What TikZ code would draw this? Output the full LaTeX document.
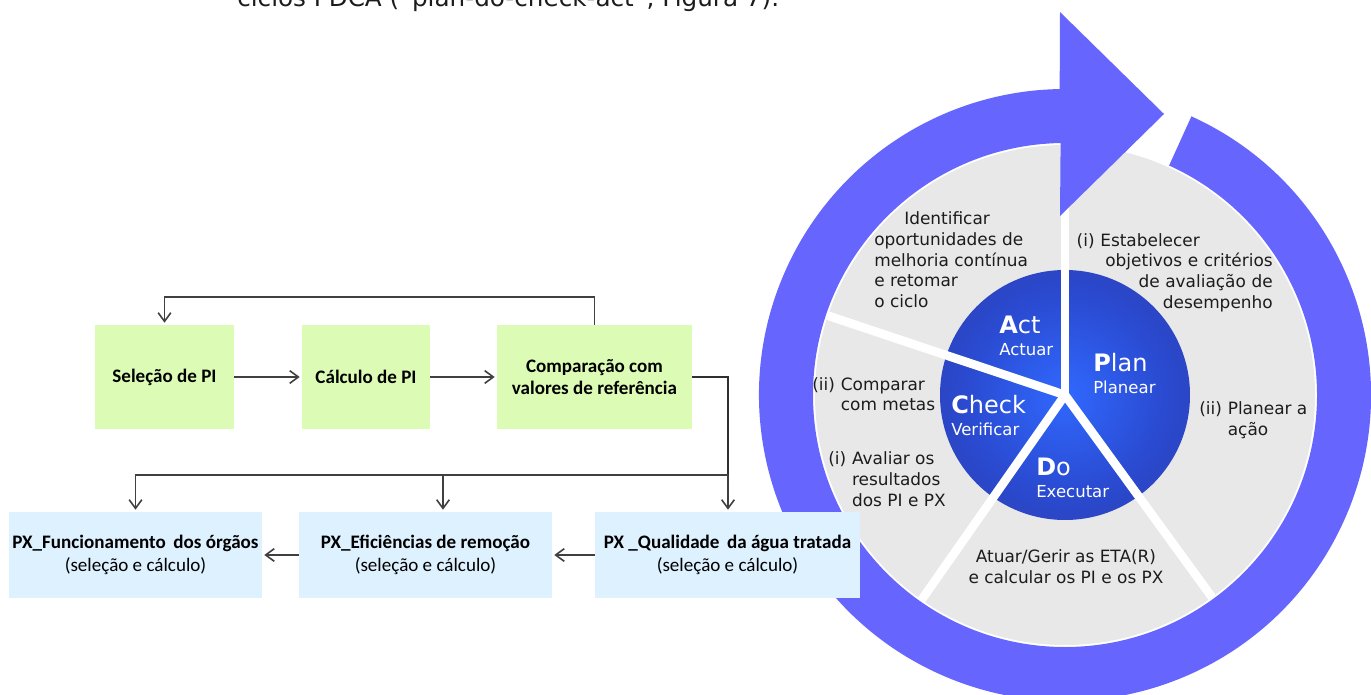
\documentclass[tikz,border=0pt]{standalone}
\usepackage{fontspec}
\setmainfont{Carlito}
\newfontfamily\pdcafont{DejaVu Sans}
\usetikzlibrary{arrows.meta}
\definecolor{pigreen}{RGB}{220,252,182}
\definecolor{pxblue}{RGB}{222,241,254}
\definecolor{linegray}{RGB}{64,64,64}
\definecolor{ringblue}{RGB}{102,102,255}
\definecolor{discgray}{RGB}{232,232,232}
\definecolor{textgray}{RGB}{28,28,28}
\definecolor{glowin}{RGB}{48,104,254}
\definecolor{glowmid}{RGB}{42,74,208}
\definecolor{glowout}{RGB}{46,48,142}
\pgfdeclareradialshading{pdcaglow}{\pgfpoint{0bp}{0bp}}{color(0bp)=(glowin); color(20bp)=(glowmid); color(50bp)=(glowout)}
\newcommand\phasesub[1]{{\fontsize{12.4}{12.4}\selectfont #1}}

\begin{document}
\begin{tikzpicture}[x=0.75pt,y=0.75pt]
\tikzstyle{pibox}=[fill=pigreen, minimum height=78pt, align=center, inner sep=2pt, font=\fontsize{14.3}{17}\selectfont\bfseries]
\tikzstyle{pxbox}=[fill=pxblue, minimum width=189.75pt, minimum height=64.5pt, align=center, inner sep=2pt, font=\fontsize{14.3}{17.2}\selectfont]
\tikzstyle{flow}=[draw=linegray, line width=1.2pt, shorten >=1.5pt, -{Straight Barb[length=6.5pt,width=9.5pt]}]
\tikzstyle{stem}=[draw=linegray!75!black, line width=2pt]
\tikzstyle{note}=[text=textgray, inner sep=0pt, font=\pdcafont\fontsize{12.7}{15.5}\selectfont]
\tikzstyle{phase}=[text=white, inner sep=0pt, align=left, anchor=west, font=\pdcafont\fontsize{18}{16.5}\selectfont]
\useasboundingbox (0,0) rectangle (1371,-695);

\begin{scope}
\clip (0,0) rectangle (1371,-695);
\node[anchor=base west, inner sep=0pt, text=textgray, font=\pdcafont\fontsize{18.5}{20}\selectfont] (caption) at (237,-7) {ciclos PDCA (“plan-do-check-act”, Figura 7).};
\end{scope}

\begin{scope}[shift={(1065,-395)}]
\fill[discgray] (0,0) circle[radius=250];
\shade[shading=pdcaglow] (0,0) circle[radius=125];
\foreach \a in {90,161.5,235,306}
  \draw[white, line width=6.5pt] (0,0) -- (\a:250);
\fill[ringblue] (65.6:306) arc[start angle=65.6, end angle=-269, radius=306]
  -- (-5,383) -- (99,281) -- (-5,179) -- (-269:252)
  arc[start angle=-269, end angle=65.6, radius=252] -- cycle;
\end{scope}

\node[note, anchor=west, align=left] (ident) at (874,-260) {\hspace*{22.5pt}Identificar\\oportunidades de\\melhoria contínua\\e retomar\\o ciclo};
\node[note, anchor=east, align=right, text width=147pt] (estab) at (1273,-272.5) {\noindent\makebox[\hsize][l]{(i) Estabelecer}\\objetivos e critérios\\de avaliação de\\desempenho};
\node[note, anchor=west] (compar) at (812,-396.5) {\begin{tabular}{@{}l@{\hspace{0.35em}}l@{}}(ii)&Comparar\\&com metas\end{tabular}};
\node[note, anchor=west] (aval) at (828,-481.5) {\begin{tabular}{@{}l@{\hspace{0.35em}}l@{}}(i)&Avaliar os\\&resultados\\&dos PI e PX\end{tabular}};
\node[note, anchor=west] (planear) at (1199,-421) {\begin{tabular}{@{}l@{\hspace{0.35em}}l@{}}(ii)&Planear a\\&ação\end{tabular}};
\node[note, align=center] (atuar) at (1066,-566.5) {Atuar/Gerir as ETA(R)\\e calcular os PI e os PX};

\node[phase] (act) at (999,-336) {\textbf{A}ct\\\phasesub{Actuar}};
\node[phase] (plan) at (1093,-373.5) {\textbf{P}lan\\\phasesub{Planear}};
\node[phase] (check) at (951,-415.5) {\textbf{C}heck\\\phasesub{Verificar}};
\node[phase] (do) at (1036,-478) {\textbf{D}o\\\phasesub{Executar}};

\node[pibox, minimum width=104.25pt] (sel) at (164.5,-377) {Seleção de PI};
\node[pibox, minimum width=96pt] (calc) at (366,-377) {Cálculo de PI};
\node[pibox, minimum width=146.25pt] (comp) at (594.5,-377) {Comparação com\\valores de referência};
\node[pxbox] (func) at (135.5,-555) {\textbf{PX\_Funcionamento\, dos órgãos}\\(seleção e cálculo)};
\node[pxbox] (eff) at (425.5,-555) {\textbf{PX\_Eficiências de remoção}\\(seleção e cálculo)};
\node[pxbox, minimum width=198.75pt] (qual) at (727.5,-555) {\textbf{PX \_Qualidade\, da água tratada}\\(seleção e cálculo)};

\coordinate (bend) at (728,-377);
\coordinate (split) at (728,-475);
\coordinate (drop) at (443,-475);
\draw[flow] (sel) -- (calc);
\draw[flow] (calc) -- (comp);
\draw[flow] (comp.north) -- ++(0,28) -| (sel.north);
\draw[stem] (comp.east) -- (bend) -- (split);
\draw[flow] (split) -- (split |- qual.north);
\draw[flow] (split) -| (func.north);
\draw[flow] (drop) -- (drop |- eff.north);
\draw[flow] (qual) -- (eff);
\draw[flow] (eff) -- (func);
\end{tikzpicture}
\end{document}
